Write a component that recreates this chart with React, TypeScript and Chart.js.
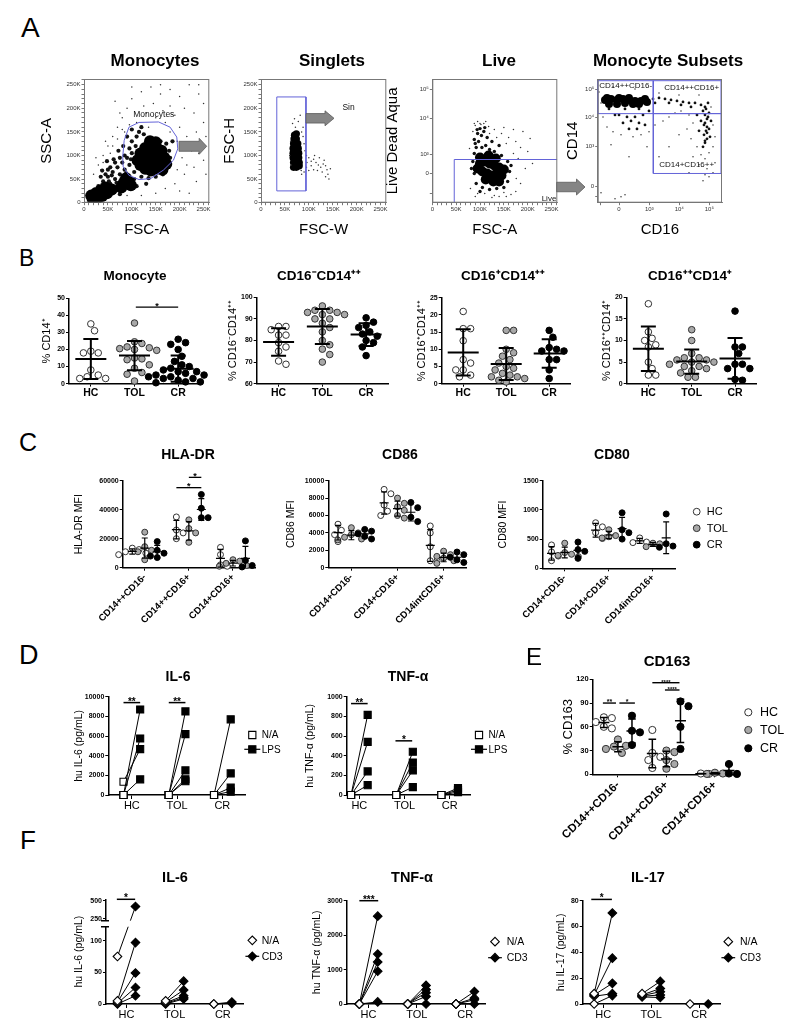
import React, { useEffect, useRef } from 'react';
import { Chart, registerables } from 'chart.js';

Chart.register(...registerables);

const FONT = "'Liberation Sans', Arial, Helvetica, sans-serif";
Chart.defaults.font.family = FONT;
Chart.defaults.color = '#000';

type P2 = [number, number];

/* ================= PANEL A : flow cytometry (K units / display units) ================= */
const A_LIN_TICKS = [0, 50, 100, 150, 200, 250];
const A_LIN_LABELS = ['0', '50K', '100K', '150K', '200K', '250K'];
const A_BIEX_LABELS = ['', '0', '10³', '10⁴', '10⁵'];
const A3_Y_TICKS = [-20, 0, 19.3, 55, 84];
const A4_X_TICKS = [-19, 0, 30.3, 60.3, 90.3];
const A4_Y_TICKS = [-10, 0, 40, 69.3, 97.3];

const A1_GATE: P2[] = [[81, 97], [84, 132], [94, 160], [115, 170], [156, 171], [180, 160], [194, 139], [196, 114], [187, 90], [166, 69], [139, 51], [115, 49], [94, 58], [82, 76], [81, 97]];
const A1_CORE: P2[] = [[118, 80], [128, 72], [140, 68], [152, 72], [125, 92], [137, 88], [149, 86], [160, 84], [132, 105], [145, 102], [157, 98], [168, 95], [140, 118], [152, 115], [162, 110], [128, 116], [118, 104], [112, 90], [172, 82], [164, 70], [138, 130], [150, 128], [82, 40], [93, 45], [88, 52], [98, 37], [78, 32], [18, 8], [28, 10], [38, 14], [48, 20], [25, 20], [35, 26], [58, 28], [45, 32], [15, 15]];
const A1_MID: P2[] = [[30, 35], [40, 45], [50, 55], [55, 40], [60, 65], [65, 50], [70, 75], [75, 60], [80, 85], [85, 70], [90, 95], [95, 80], [100, 105], [105, 65], [108, 120], [100, 130], [95, 115], [85, 100], [75, 95], [65, 85], [55, 75], [45, 60], [70, 30], [110, 140], [115, 150], [125, 145], [120, 55], [135, 52], [150, 55], [165, 60], [175, 75], [180, 95], [178, 110], [172, 125], [160, 130], [105, 50], [60, 20], [75, 18], [110, 35], [130, 40], [35, 55], [50, 70], [62, 92], [72, 110], [82, 120], [90, 140], [100, 155], [68, 42], [88, 62], [98, 92], [112, 75], [22, 28], [42, 25], [52, 45], [78, 50], [58, 58], [48, 88], [38, 68], [120, 160], [185, 130]];
const A1_SPARSE: P2[] = [[20, 60], [30, 80], [40, 100], [50, 120], [60, 140], [70, 160], [80, 180], [90, 200], [100, 220], [120, 235], [140, 245], [160, 230], [180, 240], [200, 225], [220, 250], [240, 230], [250, 210], [230, 190], [210, 200], [190, 185], [170, 170], [150, 180], [130, 190], [110, 170], [95, 165], [85, 150], [70, 135], [55, 105], [40, 85], [200, 160], [215, 140], [235, 150], [250, 170], [245, 120], [225, 110], [205, 95], [230, 75], [250, 90], [210, 60], [235, 45], [190, 40], [200, 25], [170, 30], [150, 20], [120, 15], [90, 15], [220, 20], [180, 150], [195, 130], [255, 140], [125, 205], [145, 210], [65, 215], [180, 205], [240, 250], [160, 250], [100, 245], [75, 190], [45, 130], [25, 95], [205, 115], [215, 80], [195, 70], [240, 105], [255, 60], [165, 195], [135, 160], [80, 155], [60, 120], [35, 70]];

const A2_GATE: P2[] = [[33, 25], [33, 224], [94, 224], [94, 25], [33, 25]];
const A2_CORE: P2[] = [[68, 75], [74, 75], [80, 78], [68, 85], [74, 85], [80, 85], [67, 95], [73, 95], [79, 95], [67, 105], [73, 105], [79, 105], [67, 115], [73, 115], [78, 115], [68, 125], [73, 125], [77, 125], [69, 135], [74, 135], [70, 143], [74, 146]];
const A2_SPARSE: P2[] = [[72, 160], [78, 172], [66, 168], [85, 150], [88, 140], [90, 125], [92, 110], [95, 100], [100, 95], [105, 88], [110, 92], [115, 85], [120, 80], [125, 75], [130, 82], [135, 78], [138, 70], [128, 65], [140, 60], [135, 55], [110, 70], [100, 68], [95, 75], [90, 65], [85, 60], [60, 100], [62, 130], [88, 160], [112, 100], [122, 95], [105, 78], [118, 68], [132, 90], [96, 85], [84, 68], [63, 80], [70, 178], [82, 185], [145, 72], [142, 50]];

const A3_GATE: P2[] = [[46, -29.3], [46, 14], [262, 14]];
const A3_CORE: P2[] = [[100, 10], [110, 12], [120, 10], [130, 8], [140, 6], [150, 4], [105, 2], [115, 0], [125, -2], [135, 0], [145, -2], [112, -6], [128, -8], [140, -8], [100, 16], [118, 18], [133, 15], [95, 5]];
const A3_MID: P2[] = [[88, 20], [92, 26], [97, 32], [103, 38], [108, 42], [95, 40], [88, 34], [112, 28], [120, 24], [130, 22], [145, 18], [158, 12], [162, 2], [158, -8], [150, -14], [135, -15], [120, -16], [105, -14], [92, -10], [88, 0], [85, 12], [100, 45], [94, 44], [110, 46], [125, 32], [140, 28], [90, 30], [104, 26], [115, 36], [100, -18], [165, 8], [82, 5]];
const A3_SPARSE: P2[] = [[90, 48], [95, 52], [100, 50], [108, 50], [118, 47], [130, 44], [145, 40], [160, 36], [175, 32], [185, 26], [200, 22], [205, 35], [190, 42], [170, 44], [180, 15], [195, 5], [185, -10], [175, -18], [165, -21], [150, -19], [130, -22], [110, -20], [95, -20], [90, -23], [140, -23], [210, 10], [120, 40], [135, 36], [155, 30], [150, 46], [85, 42], [102, 49], [170, 20], [176, -5], [155, -23], [125, -24], [80, -15], [78, 25], [88, 50], [112, 52]];

const A4_GATE1: P2[] = [[-21.3, 73.3], [34.3, 73.3], [34.3, 106.3], [-21.3, 106.3], [-21.3, 73.3]];
const A4_GATE2: P2[] = [[34.3, 73.3], [102, 73.3], [102, 106.3], [34.3, 106.3], [34.3, 73.3]];
const A4_GATE3: P2[] = [[34.3, 13.3], [102, 13.3], [102, 73.3], [34.3, 73.3], [34.3, 13.3]];
const A4_CORE: P2[] = [[-14, 87], [-8, 88], [-2, 87], [4, 88], [10, 87], [16, 86], [22, 86], [-10, 83], [-2, 83], [6, 84], [14, 83], [20, 83], [28, 85], [0, 89], [10, 89], [-12, 89], [26, 88]];
const A4_MID: P2[] = [[34, 88], [40, 89], [46, 88], [52, 87], [58, 86], [64, 85], [70, 84], [76, 84], [82, 82], [86, 80], [84, 76], [86, 72], [88, 68], [86, 64], [88, 60], [87, 56], [85, 52], [88, 48], [86, 44], [84, 40], [90, 74], [90, 58], [82, 66], [80, 56], [78, 72], [92, 66], [0, 72], [8, 70], [16, 70], [24, 72], [4, 64], [12, 66], [20, 64], [10, 58], [18, 58], [26, 62], [6, 78], [20, 78], [30, 76], [-10, 78], [-4, 72], [36, 84], [50, 84], [62, 82], [72, 80], [89, 84], [91, 50], [87, 78], [89, 70], [85, 62], [88, 54], [86, 46]];
const A4_SPARSE: P2[] = [[-16, 70], [-12, 60], [-6, 55], [2, 52], [14, 50], [22, 52], [30, 55], [36, 62], [44, 66], [50, 70], [56, 74], [62, 76], [70, 72], [74, 64], [68, 58], [60, 52], [72, 48], [78, 40], [82, 32], [86, 28], [90, 34], [94, 40], [96, 50], [94, 62], [92, 80], [80, 92], [60, 92], [40, 94], [96, 24], [88, 18], [80, 22], [74, 30], [-18, 84], [-20, 95], [-6, 100], [16, 98], [-18, -6], [2, -10], [6, -8], [-4, -12], [90, 10], [84, 6], [70, 14], [50, 40], [40, 30], [28, 40], [-8, 42], [10, 30], [94, 14], [86, 12]];

/* ================= PANEL B : % of monocytes ================= */
const GROUPS = ['HC', 'TOL', 'CR'];
const B1_HC = [35, 31, 19, 18, 18, 8, 5, 4, 3, 3];
const B1_TOL = [35.5, 24.5, 23.5, 21.5, 21, 20.5, 20, 19.5, 15, 14.5, 14, 11, 9, 6.5, 5.5, 1.5];
const B1_CR = [26, 24, 23, 20, 16, 13, 11, 10, 9, 8, 7, 7, 6, 5, 5, 4, 4, 3, 3, 2, 2, 1, 1, 0.5];
const B2_HC = [86.5, 86.5, 85, 82.5, 82.5, 79, 77, 75, 69, 70.5];
const B2_TOL = [96, 94, 94, 93, 93, 92, 92, 90, 90, 88, 86, 84, 80, 78, 73.5, 70, 76];
const B2_CR = [90.5, 88.5, 87, 86, 84, 83, 82, 80, 79, 77, 73];
const B3_HC = [21, 16, 16, 12.5, 7, 6, 4, 4, 2.5, 2];
const B3_TOL = [15.5, 15.5, 10, 9, 8, 7, 6, 5, 4.5, 4, 3, 2.5, 2, 2, 1.5, 1, 0.5];
const B3_CR = [15.5, 13.5, 10.5, 10, 9.5, 9.5, 7, 7, 4, 1.5];
const B4_HC = [18.5, 12, 10.5, 10, 9, 8.5, 5, 3.5, 2, 2];
const B4_TOL = [12.5, 10, 7, 6, 6, 5.5, 5.5, 5, 5, 4.5, 4, 4, 3.5, 3, 2.5, 1.5, 1.5];
const B4_CR = [16.8, 8.5, 8.5, 7, 4.5, 4.5, 3.5, 3.5, 1, 0.8];
const B1_TICKS = [0, 10, 20, 30, 40, 50];
const B2_TICKS = [60, 70, 80, 90, 100];
const B3_TICKS = [0, 5, 10, 15, 20, 25];
const B4_TICKS = [0, 5, 10, 15, 20];

/* ================= PANEL C : MFI per subset ================= */
const C_LAB1 = ['CD14++CD16-', 'CD14++CD16+', 'CD14+CD16+'];
const C_LAB2 = ['CD14+CD16-', 'CD14+CD16+', 'CD14intCD16+'];
const C1_HC = [[13500, 11000, 10000, 9000, 12500], [35000, 26000, 24000, 20000], [14000, 9000, 2000, 1000]];
const C1_TOL = [[24500, 14500, 12000, 11000, 5500], [33000, 27000, 24000, 17500], [5500, 4500, 3000, 1500, 1000]];
const C1_CR = [[18000, 12000, 10000, 8000, 7000], [50500, 41000, 34500, 34500], [18500, 5000, 1500, 500]];
const C2_HC = [[5000, 4300, 3800, 3000], [9000, 8500, 7200, 6500, 6000], [4800, 4000, 2400, 800, 800]];
const C2_TOL = [[4600, 4000, 3800, 3300, 3200, 3500], [8000, 7400, 7000, 6600, 6000, 5700], [1900, 1500, 1300, 1100, 800, 500]];
const C2_CR = [[4400, 4200, 3900, 3600, 3300], [7500, 6900, 5800, 5300], [1800, 1500, 1200, 900, 600]];
const C3_HC = [[400, 280, 210, 130], [780, 710, 610, 510], [520, 450, 440]];
const C3_TOL = [[430, 270, 240, 220, 200], [660, 560, 540, 520], [430, 420, 370]];
const C3_CR = [[450, 320, 290, 170], [950, 660, 610, 500], [930, 420, 380, 360]];
const C1_TICKS = [0, 20000, 40000, 60000];
const C2_TICKS = [0, 2000, 4000, 6000, 8000, 10000];
const C3_TICKS = [0, 500, 1000, 1500];

/* ================= PANEL D : LPS stimulation ================= */
const D1_NA = [[0, 0, 1350, 0], [0, 0, 0, 0, 0], [0, 0, 0, 0]];
const D1_LPS = [[8700, 5750, 4670, 1590], [8500, 6200, 2500, 1600, 1400], [7700, 2200, 750, 350]];
const D2_NA = [[0, 0, 0, 0], [0, 0, 0, 0], [0, 0, 0]];
const D2_LPS = [[815, 540, 240, 100], [440, 330, 250, 80], [70, 50, 30]];
const D1_TICKS = [0, 2000, 4000, 6000, 8000, 10000];
const D2_TICKS = [0, 200, 400, 600, 800, 1000];

/* ================= PANEL E : % CD163 ================= */
const E_HC = [[72, 71, 66, 60, 58], [56, 27, 22, 18, 8], [0.5, 1]];
const E_TOL = [[44, 36, 35, 32, 27], [30, 28, 18, 13, 7], [1, 0.5, 2]];
const E_CR = [[74, 55, 53, 37], [92, 86, 60, 32], [13, 1, 0.5]];
const E_TICKS = [0, 30, 60, 90, 120];

/* ================= PANEL F : CD3 stimulation ================= */
const F1_NA = [[75, 5, 3, 1, 0], [5, 3, 2, 1, 0], [0, 0]];
const F1_CD3 = [[420, 97, 49, 26, 13], [36, 22, 13, 10, 8], [3, 1]];
const F2_NA = [[0, 0, 0, 0, 0], [0, 0, 0, 0, 0], [0, 0, 0, 0]];
const F2_CD3 = [[2550, 1450, 1220, 950, 60], [540, 420, 330, 220, 0], [360, 170, 120, 0]];
const F3_NA = [[8, 7, 7, 6, 0], [8, 7, 6.5, 6, 5.5], [0]];
const F3_CD3 = [[70.5, 35.5, 16, 8, 6.5], [17.5, 12, 9.5, 7, 5], [0]];
const F1_TICKS = [0, 50, 100, 250, 500];
const F2_TICKS = [0, 1000, 2000, 3000];
const F3_TICKS = [0, 20, 40, 60, 80];

/* ================= helpers ================= */
const STY: any = {
  hc: { bg: '#ffffff', bd: '#333333' },
  tol: { bg: '#a8a8a8', bd: '#333333' },
  cr: { bg: '#000000', bd: '#000000' },
};

function mean(a: number[]) { return a.reduce((s, v) => s + v, 0) / a.length; }
function sdev(a: number[]) {
  if (a.length < 2) return 0;
  const m = mean(a);
  return Math.sqrt(a.reduce((s, v) => s + (v - m) * (v - m), 0) / (a.length - 1));
}
// axis break for F1 (lower segment 0..122, upper segment 227..520)
function brk(v: number) { return v <= 122 ? v : 134.2 + (v - 250) * 0.116; }

function linTicks(major: number[], labels: string[]) {
  const vals: number[] = []; const labs: string[] = [];
  for (let v = 0; v <= 260; v += 10) {
    vals.push(v);
    const k = major.indexOf(v);
    labs.push(k >= 0 ? labels[k] : '');
  }
  return { vals, labs };
}

function swarm(values: number[], pxY: number, d: number): number[] {
  const order = values.map((_, i) => i).sort((a, b) => values[b] - values[a]);
  const placed: number[][] = [];
  const out = new Array(values.length).fill(0);
  for (const i of order) {
    const y = values[i] * pxY;
    let chosen = 0;
    for (let k = 0; k < 80; k++) {
      const cand = k === 0 ? 0 : (k % 2 === 1 ? 1 : -1) * Math.ceil(k / 2) * d * 0.5;
      if (placed.every(([px, py]) => Math.hypot(px - cand, py - y) >= d)) { chosen = cand; break; }
    }
    placed.push([chosen, y]);
    out[i] = chosen;
  }
  return out;
}

function layoutGeo(p: any) {
  const [x0, y0, x1, y1] = p.plot;
  const ylh = p.yTitleSize * 1.2;
  const needL = p.yTitleX - ylh / 2 - 1;
  const needR = x1 + (p.extraRight ?? 4);
  const half = Math.ceil(Math.max(p.titleX - needL, needR - p.titleX));
  const left = Math.round(p.titleX - half);
  const width = 2 * half;
  const tlh = p.titleSize * 1.2;
  const top = Math.floor(p.titleY - tlh / 2 - 1);
  const bottomEdge = p.xTitleY !== undefined ? p.xTitleY + (p.xTitleSize * 1.2) / 2 + 1 : y1 + (p.bottom ?? 20);
  const height = Math.ceil(bottomEdge - top);
  const T = y0 - top;
  const titlePadTop = p.titleY - tlh / 2 - top;
  return {
    left, top, width, height,
    L: x0 - left, R: left + width - x1, T, B: top + height - y1,
    titlePadTop, titlePadBottom: T - titlePadTop - tlh,
    yTitlePad: p.yTitleX - ylh / 2 - left,
    xTitlePad: p.xTitleY !== undefined ? (top + height) - p.xTitleY - (p.xTitleSize * 1.2) / 2 : 0,
  };
}

function axisCfg(o: any) {
  return {
    type: 'linear', min: o.min, max: o.max,
    afterBuildTicks: (s: any) => { s.ticks = o.ticks.map((v: number) => ({ value: v })); },
    ticks: {
      autoSkip: false, minRotation: o.rot || 0, maxRotation: o.rot || 0, padding: o.pad ?? 1,
      color: o.color || '#000', font: { size: o.size, weight: o.bold ? 'bold' : 'normal' },
      callback: (_v: any, i: number) => o.labels[i],
    },
    grid: { display: true, drawOnChartArea: false, drawTicks: true, tickLength: o.tickLen ?? 3, color: o.tickColor || '#000', lineWidth: o.tickW ?? 1 },
    border: { display: true, color: o.border || '#000', width: o.borderW ?? 1.5 },
    title: o.title ? { display: true, text: o.title, color: '#000', font: { size: o.titleSize }, padding: o.titlePad } : { display: false },
  };
}

function chartOptions(geo: any, title: string, titleSize: number, x: any, y: any) {
  return {
    responsive: false, maintainAspectRatio: false, animation: false, events: [],
    layout: { padding: 0 },
    plugins: {
      legend: { display: false }, tooltip: { enabled: false },
      title: {
        display: true, text: title, fullSize: true, color: '#000',
        font: { size: titleSize, weight: 'bold' },
        padding: { top: geo.titlePadTop, bottom: geo.titlePadBottom },
      },
    },
    scales: {
      x: { ...x, afterFit: (s: any) => { s.height = geo.B; } },
      y: { ...y, afterFit: (s: any) => { s.width = geo.L; } },
      yR: {
        type: 'linear', position: 'right', display: true,
        ticks: { display: false }, grid: { display: false }, border: { display: false },
        afterFit: (s: any) => { s.width = geo.R; },
      },
    },
  };
}

function marker(ctx: CanvasRenderingContext2D, kind: string, x: number, y: number, r: number) {
  ctx.save();
  ctx.lineWidth = 1;
  if (kind === 'hc' || kind === 'tol' || kind === 'cr') {
    ctx.beginPath(); ctx.arc(x, y, r, 0, Math.PI * 2);
    ctx.fillStyle = STY[kind].bg; ctx.fill(); ctx.strokeStyle = STY[kind].bd; ctx.stroke();
  } else {
    const filled = kind.endsWith('Fill');
    const dia = kind.startsWith('dia');
    if (filled) {
      ctx.strokeStyle = '#000'; ctx.lineWidth = 1.2;
      ctx.beginPath(); ctx.moveTo(x - r * 1.6, y); ctx.lineTo(x + r * 1.6, y); ctx.stroke();
    }
    ctx.beginPath();
    if (dia) { ctx.moveTo(x - r, y); ctx.lineTo(x, y - r); ctx.lineTo(x + r, y); ctx.lineTo(x, y + r); ctx.closePath(); }
    else { ctx.rect(x - r * 0.72, y - r * 0.72, r * 1.44, r * 1.44); }
    ctx.fillStyle = filled ? '#000' : '#fff'; ctx.fill();
    ctx.strokeStyle = '#000'; ctx.lineWidth = 1.1; ctx.stroke();
  }
  ctx.restore();
}

function decoPlugin(d: any) {
  return {
    id: 'deco',
    afterDatasetsDraw(chart: any) {
      const ctx: CanvasRenderingContext2D = chart.ctx;
      const xs = chart.scales.x; const ys = chart.scales.y; const a = chart.chartArea;
      const px = (v: number) => xs.getPixelForValue(v);
      const py = (v: number) => ys.getPixelForValue(v);
      ctx.save();
      if (d.brk) {
        const yHi = py(d.brk.hi); const yLo = py(d.brk.lo);
        ctx.fillStyle = '#fff';
        ctx.fillRect(a.left - 6, yHi, a.right - a.left + 6, yLo - yHi);
        ctx.strokeStyle = '#000'; ctx.lineWidth = 1.5;
        ctx.beginPath();
        ctx.moveTo(a.left - 5, yHi); ctx.lineTo(a.left + 3, yHi);
        ctx.moveTo(a.left - 5, yLo); ctx.lineTo(a.left + 3, yLo);
        ctx.stroke();
      }
      if (d.frame) {
        ctx.strokeStyle = d.frame; ctx.lineWidth = 1;
        ctx.strokeRect(a.left + 0.5, a.top + 0.5, a.right - a.left - 1, a.bottom - a.top - 1);
      }
      if (d.errs) {
        for (const e of d.errs) {
          const m = mean(e.vals); const s = sdev(e.vals);
          const x = px(e.x);
          ctx.strokeStyle = '#000'; ctx.lineWidth = e.lw;
          ctx.beginPath();
          ctx.moveTo(x - e.mw, py(m)); ctx.lineTo(x + e.mw, py(m));
          if (s > 0) {
            const yTop = py(m + s);
            const lowV = Math.max(m - s, ys.min);
            const yBot = py(lowV);
            ctx.moveTo(x, yTop); ctx.lineTo(x, yBot);
            ctx.moveTo(x - e.cw, yTop); ctx.lineTo(x + e.cw, yTop);
            if (m - s > ys.min) { ctx.moveTo(x - e.cw, yBot); ctx.lineTo(x + e.cw, yBot); }
          }
          ctx.stroke();
        }
      }
      if (d.sigs) {
        for (const s of d.sigs) {
          const y = py(s.y);
          ctx.strokeStyle = '#000'; ctx.lineWidth = s.lw ?? 1.4;
          ctx.beginPath(); ctx.moveTo(px(s.x1), y); ctx.lineTo(px(s.x2), y); ctx.stroke();
          ctx.fillStyle = '#000';
          ctx.font = `bold ${s.size}px ${FONT}`;
          ctx.textAlign = 'center'; ctx.textBaseline = 'alphabetic';
          ctx.fillText(s.text, (px(s.x1) + px(s.x2)) / 2, y + s.size * 0.2);
        }
      }
      if (d.texts) {
        for (const t of d.texts) {
          ctx.fillStyle = '#111';
          ctx.font = `${t.size}px ${FONT}`;
          ctx.textAlign = t.align || 'center'; ctx.textBaseline = 'middle';
          ctx.fillText(t.text, px(t.x), py(t.y));
        }
      }
      if (d.legend) {
        const L = d.legend;
        for (const it of L.items) {
          const mx = a.right + L.dx; const my = a.top + it.dy;
          marker(ctx, it.kind, mx, my, L.r);
          ctx.fillStyle = '#000';
          ctx.font = `${L.size}px ${FONT}`;
          ctx.textAlign = 'left'; ctx.textBaseline = 'middle';
          ctx.fillText(it.text, mx + L.gap, my + 0.5);
        }
      }
      ctx.restore();
    },
  };
}

/* ================= chart spec builders ================= */
function flowSpec(p: any) {
  const geo = layoutGeo({ plot: p.plot, titleX: p.titleX, titleY: 61, titleSize: 17, yTitleX: p.yTitleX, yTitleSize: 15, xTitleY: 230, xTitleSize: 15, extraRight: 3 });
  const make = () => {
    const pts = (arr: P2[]) => arr.map(([x, y]) => ({ x, y }));
    const datasets: any[] = [];
    p.gates.forEach((g: P2[]) => datasets.push({ data: pts(g), showLine: true, borderColor: '#6363d8', borderWidth: 1, pointRadius: 0, xAxisID: 'x', yAxisID: 'y' }));
    datasets.push({ data: pts(p.sparse), pointRadius: 0.75, pointBackgroundColor: '#333', pointBorderWidth: 0, xAxisID: 'x', yAxisID: 'y' });
    datasets.push({ data: pts(p.core), pointRadius: p.coreR, pointBackgroundColor: '#000', pointBorderWidth: 0, xAxisID: 'x', yAxisID: 'y' });
    if (p.mid) datasets.push({ data: pts(p.mid), pointRadius: p.midR, pointBackgroundColor: '#111', pointBorderWidth: 0, xAxisID: 'x', yAxisID: 'y' });
    const common = { size: 6, color: '#333', tickLen: 2.5, tickColor: '#555', tickW: 0.8, border: '#777', borderW: 1, pad: 1 };
    const x = axisCfg({ ...common, min: p.xmin, max: p.xmax, ticks: p.xt.vals, labels: p.xt.labs, title: p.xTitle, titleSize: 15, titlePad: { top: 0, bottom: geo.xTitlePad } });
    const y = axisCfg({ ...common, min: p.ymin, max: p.ymax, ticks: p.yt.vals, labels: p.yt.labs, title: p.yTitle, titleSize: 15, titlePad: { top: geo.yTitlePad, bottom: 0 } });
    return { type: 'scatter', data: { datasets }, options: chartOptions(geo, p.title, 17, x, y), plugins: [decoPlugin({ frame: '#777', texts: p.texts })] };
  };
  return { geo, make };
}

function dotSpec(p: any) {
  const geo = layoutGeo({ plot: p.plot, titleX: p.titleX, titleY: p.titleY, titleSize: p.titleSize, yTitleX: p.yTitleX, yTitleSize: p.yTitleSize, bottom: p.bottom, extraRight: p.extraRight ?? 4 });
  const make = () => {
    const [x0, y0, x1, y1] = p.plot;
    const pxX = (x1 - x0) / (p.xmax - p.xmin);
    const pxY = (y1 - y0) / (p.ymax - p.ymin);
    const by: any = { hc: [], tol: [], cr: [] };
    const errs: any[] = [];
    p.clusters.forEach((c: any) => {
      const offs = swarm(c.values, pxY, p.r * 2 + 0.8);
      c.values.forEach((v: number, i: number) => by[c.style].push({ x: c.pos + offs[i] / pxX, y: v }));
      errs.push({ x: c.pos, vals: c.values, mw: p.mw, cw: p.cw, lw: p.lw });
    });
    const datasets = ['cr', 'tol', 'hc'].filter((k) => by[k].length).map((k) => ({
      data: by[k], pointRadius: p.r, pointBackgroundColor: STY[k].bg, pointBorderColor: STY[k].bd,
      pointBorderWidth: 1, xAxisID: 'x', yAxisID: 'y', clip: false,
    }));
    const x = axisCfg({ min: p.xmin, max: p.xmax, ticks: [1, 2, 3], labels: p.xlabels, size: p.xSize, bold: true, rot: p.rot || 0, tickLen: 3, pad: p.xPad ?? 0 });
    const y = axisCfg({ min: p.ymin, max: p.ymax, ticks: p.yticks, labels: p.yticks.map(String), size: p.ySize, bold: true, tickLen: 3, pad: 1, title: p.yTitle, titleSize: p.yTitleSize, titlePad: { top: geo.yTitlePad, bottom: 0 } });
    return { type: 'scatter', data: { datasets }, options: chartOptions(geo, p.title, p.titleSize, x, y), plugins: [decoPlugin({ errs, sigs: p.sigs, legend: p.legend })] };
  };
  return { geo, make };
}

function pairSpec(p: any) {
  const geo = layoutGeo({ plot: p.plot, titleX: p.titleX, titleY: p.titleY, titleSize: p.titleSize, yTitleX: p.yTitleX, yTitleSize: 10.5, bottom: 20, extraRight: p.extraRight ?? 40 });
  const make = () => {
    const tf = p.tf || ((v: number) => v);
    const datasets: any[] = [];
    p.na.forEach((grp: number[], g: number) => grp.forEach((v: number, j: number) => {
      datasets.push({
        data: [{ x: g + 1 - p.off, y: tf(v) }, { x: g + 1 + p.off, y: tf(p.st[g][j]) }],
        showLine: true, borderColor: '#000', borderWidth: 1,
        pointStyle: p.shape, pointRadius: p.r, pointBackgroundColor: ['#ffffff', '#000000'],
        pointBorderColor: '#000', pointBorderWidth: 1.1, xAxisID: 'x', yAxisID: 'y', clip: false,
      });
    }));
    const x = axisCfg({ min: p.xmin, max: p.xmax, ticks: [1, 2, 3], labels: GROUPS, size: 11, bold: false, tickLen: 4, pad: 0 });
    const y = axisCfg({ min: p.ymin, max: p.ymax, ticks: p.yticks.map(tf), labels: p.yticks.map(String), size: 7, bold: true, tickLen: 3, pad: 1, title: p.yTitle, titleSize: 10.5, titlePad: { top: geo.yTitlePad, bottom: 0 } });
    return { type: 'scatter', data: { datasets }, options: chartOptions(geo, p.title, p.titleSize, x, y), plugins: [decoPlugin({ sigs: p.sigs, legend: p.legend, brk: p.brk })] };
  };
  return { geo, make };
}

function triClusters(hc: number[][], tol: number[][], cr: number[][], off: number) {
  const out: any[] = [];
  [hc, tol, cr].forEach((arr, s) => arr.forEach((vals, g) => out.push({ style: ['hc', 'tol', 'cr'][s], pos: g + 1 + (s - 1) * off, values: vals })));
  return out;
}

/* ================= specs ================= */
const linT = linTicks(A_LIN_TICKS, A_LIN_LABELS);
const A1 = flowSpec({ plot: [84, 79, 209.3, 202.7], titleX: 155, title: 'Monocytes', yTitle: 'SSC-A', yTitleX: 47, xTitle: 'FSC-A', xmin: 0, xmax: 262, ymin: 0, ymax: 262, xt: linT, yt: linT, gates: [A1_GATE], core: A1_CORE, coreR: 6, mid: A1_MID, midR: 2.1, sparse: A1_SPARSE, texts: [{ x: 146, y: 186, text: 'Monocytes', size: 8.5 }] });
const A2 = flowSpec({ plot: [261, 79, 386.3, 202.7], titleX: 332, title: 'Singlets', yTitle: 'FSC-H', yTitleX: 230, xTitle: 'FSC-W', xmin: 0, xmax: 262, ymin: 0, ymax: 262, xt: linT, yt: linT, gates: [A2_GATE], core: A2_CORE, coreR: 3.6, sparse: A2_SPARSE, texts: [{ x: 183, y: 202, text: 'Sin', size: 8.5 }] });
const A3 = flowSpec({ plot: [432.3, 79, 557.3, 202.7], titleX: 499, title: 'Live', yTitle: 'Live Dead Aqua', yTitleX: 393, xTitle: 'FSC-A', xmin: 0, xmax: 262, ymin: -29.3, ymax: 94.7, xt: linT, yt: { vals: A3_Y_TICKS, labs: A_BIEX_LABELS }, gates: [A3_GATE], core: A3_CORE, coreR: 5, mid: A3_MID, midR: 1.7, sparse: A3_SPARSE, texts: [{ x: 260, y: -25, text: 'Live', size: 8, align: 'right' }] });
const A4 = flowSpec({ plot: [597.7, 79, 722, 202.7], titleX: 668, title: 'Monocyte Subsets', yTitle: 'CD14', yTitleX: 573, xTitle: 'CD16', xmin: -21.3, xmax: 103, ymin: -16, ymax: 108, xt: { vals: A4_X_TICKS, labs: A_BIEX_LABELS }, yt: { vals: A4_Y_TICKS, labs: A_BIEX_LABELS }, gates: [A4_GATE1, A4_GATE2, A4_GATE3], core: A4_CORE, coreR: 4, mid: A4_MID, midR: 1.4, sparse: A4_SPARSE, texts: [{ x: 6.7, y: 100.7, text: 'CD14++CD16-', size: 8 }, { x: 72.7, y: 99.3, text: 'CD14++CD16+', size: 8 }, { x: 67.7, y: 21.7, text: 'CD14+CD16++', size: 8 }] });

const bCommon = { titleY: 276, titleSize: 13.5, yTitleSize: 11, bottom: 18, xmin: 0.5, xmax: 3.5, xlabels: GROUPS, xSize: 10.5, ySize: 7, r: 3.3, mw: 15.5, cw: 7.5, lw: 2 };
const bClusters = (h: number[], t: number[], c: number[]) => [{ style: 'hc', pos: 1, values: h }, { style: 'tol', pos: 2, values: t }, { style: 'cr', pos: 3, values: c }];
const B1 = dotSpec({ ...bCommon, plot: [69, 298.3, 200, 383.6], titleX: 135, title: 'Monocyte', yTitle: '% CD14⁺', yTitleX: 47, ymin: 0, ymax: 50, yticks: B1_TICKS, clusters: bClusters(B1_HC, B1_TOL, B1_CR), sigs: [{ x1: 2.03, x2: 3, y: 44.8, text: '*', size: 9, lw: 1.3 }] });
const B2 = dotSpec({ ...bCommon, plot: [256.7, 297.3, 388, 383.7], titleX: 319, title: 'CD16⁻CD14⁺⁺', yTitle: '% CD16⁻CD14⁺⁺', yTitleX: 233, ymin: 60, ymax: 100, yticks: B2_TICKS, clusters: bClusters(B2_HC, B2_TOL, B2_CR) });
const B3 = dotSpec({ ...bCommon, plot: [441.7, 297.7, 570.7, 383.7], titleX: 503, title: 'CD16⁺CD14⁺⁺', yTitle: '% CD16⁺CD14⁺⁺', yTitleX: 421.7, ymin: 0, ymax: 25, yticks: B3_TICKS, clusters: bClusters(B3_HC, B3_TOL, B3_CR) });
const B4 = dotSpec({ ...bCommon, plot: [626.7, 297.3, 756.7, 383.7], titleX: 690, title: 'CD16⁺⁺CD14⁺', yTitle: '% CD16⁺⁺CD14⁺', yTitleX: 606.7, ymin: 0, ymax: 20, yticks: B4_TICKS, clusters: bClusters(B4_HC, B4_TOL, B4_CR) });

const cCommon = { titleY: 455, titleSize: 14, yTitleSize: 10.5, bottom: 60, xmin: 0.5, xmax: 3.5, xSize: 9.5, rot: 45, ySize: 7, r: 3, mw: 4.5, cw: 3, lw: 1.2, xPad: 1 };
const C1 = dotSpec({ ...cCommon, plot: [122.7, 480.7, 255, 567.7], titleX: 188, title: 'HLA-DR', yTitle: 'HLA-DR MFI', yTitleX: 79, ymin: 0, ymax: 60000, yticks: C1_TICKS, xlabels: C_LAB1, clusters: triClusters(C1_HC, C1_TOL, C1_CR, 0.283), sigs: [{ x1: 1.717, x2: 2.283, y: 55200, text: '*', size: 9, lw: 1.3 }, { x1: 2, x2: 2.283, y: 62300, text: '*', size: 9, lw: 1.3 }] });
const C2 = dotSpec({ ...cCommon, plot: [328.3, 480.7, 466.7, 567.7], titleX: 400, title: 'CD86', yTitle: 'CD86 MFI', yTitleX: 291, ymin: 0, ymax: 10000, yticks: C2_TICKS, xlabels: C_LAB2, clusters: triClusters(C2_HC, C2_TOL, C2_CR, 0.29) });
const C3 = dotSpec({ ...cCommon, plot: [542.7, 480.7, 675, 568.3], titleX: 611.7, title: 'CD80', yTitle: 'CD80 MFI', yTitleX: 503.3, ymin: 0, ymax: 1500, yticks: C3_TICKS, xlabels: C_LAB2, extraRight: 60, clusters: triClusters(C3_HC, C3_TOL, C3_CR, 0.3), legend: { dx: 21.7, gap: 10, size: 11, r: 3.4, items: [{ dy: 31, kind: 'hc', text: 'HC' }, { dy: 47.5, kind: 'tol', text: 'TOL' }, { dy: 64, kind: 'cr', text: 'CR' }] } });

const D1 = pairSpec({ plot: [108.3, 696.7, 245, 795], titleX: 178, titleY: 677, titleSize: 14, title: 'IL-6', yTitle: 'hu IL-6 (pg/mL)', yTitleX: 79, ymin: 0, ymax: 10000, yticks: D1_TICKS, xmin: 0.48, xmax: 3.5, off: 0.184, shape: 'rect', r: 5, na: D1_NA, st: D1_LPS, sigs: [{ x1: 0.816, x2: 1.184, y: 9400, text: '**', size: 10, lw: 1.5 }, { x1: 1.816, x2: 2.184, y: 9400, text: '**', size: 10, lw: 1.5 }], legend: { dx: 7.3, gap: 9.4, size: 10, r: 5, items: [{ dy: 38.3, kind: 'sqOpen', text: 'N/A' }, { dy: 52.6, kind: 'sqFill', text: 'LPS' }] } });
const D2 = pairSpec({ plot: [346.7, 696.7, 470, 795], titleX: 408, titleY: 677, titleSize: 14, title: 'TNF-α', yTitle: 'hu TNF-α (pg/mL)', yTitleX: 310, ymin: 0, ymax: 1000, yticks: D2_TICKS, xmin: 0.72, xmax: 3.45, off: 0.184, shape: 'rect', r: 5, extraRight: 45, na: D2_NA, st: D2_LPS, sigs: [{ x1: 0.816, x2: 1.184, y: 930, text: '**', size: 10, lw: 1.5 }, { x1: 1.8, x2: 2.17, y: 551, text: '*', size: 10, lw: 1.5 }], legend: { dx: 9, gap: 9.4, size: 10, r: 5, items: [{ dy: 38.3, kind: 'sqOpen', text: 'N/A' }, { dy: 52.6, kind: 'sqFill', text: 'LPS' }] } });

const E1 = dotSpec({ plot: [592.7, 679.3, 736.7, 774.3], titleX: 666.7, titleY: 661.7, titleSize: 15, title: 'CD163', yTitle: '% CD163', yTitleX: 568.3, yTitleSize: 13, bottom: 76, extraRight: 60, xmin: 0.48, xmax: 3.45, xlabels: C_LAB1, xSize: 11.5, rot: 45, xPad: 1, ySize: 7.5, ymin: 0, ymax: 120, yticks: E_TICKS, r: 3.6, mw: 5.5, cw: 3.8, lw: 1.5, clusters: triClusters(E_HC, E_TOL, E_CR, 0.29), sigs: [{ x1: 0.69, x2: 0.96, y: 90, text: '**', size: 7, lw: 1.4 }, { x1: 1.03, x2: 1.35, y: 90, text: '*', size: 7, lw: 1.4 }, { x1: 1.71, x2: 2.27, y: 115.7, text: '****', size: 6, lw: 1.4 }, { x1: 1.97, x2: 2.27, y: 106.5, text: '****', size: 6, lw: 1.4 }], legend: { dx: 11.6, gap: 11.7, size: 12.5, r: 3.6, items: [{ dy: 33, kind: 'hc', text: 'HC' }, { dy: 50.7, kind: 'tol', text: 'TOL' }, { dy: 69, kind: 'cr', text: 'CR' }] } });

const fLegend = (dx: number, gap: number) => ({ dx, gap, size: 10.5, r: 4.3, items: [{ dy: 41, kind: 'diaOpen', text: 'N/A' }, { dy: 57, kind: 'diaFill', text: 'CD3' }] });
const F1 = pairSpec({ plot: [106, 899.3, 243.3, 1004], titleX: 175, titleY: 878.3, titleSize: 14.5, title: 'IL-6', yTitle: 'hu IL-6 (pg/mL)', yTitleX: 79, ymin: 0, ymax: 165.3, yticks: F1_TICKS, tf: brk, brk: { lo: 122, hi: 131.6 }, xmin: 0.575, xmax: 3.425, off: 0.187, shape: 'rectRot', r: 4.3, na: F1_NA, st: F1_CD3, sigs: [{ x1: 0.8, x2: 1.18, y: 165.3, text: '*', size: 10, lw: 1.5 }], legend: fLegend(9, 9.4) });
const F2 = pairSpec({ plot: [346.7, 900.7, 485, 1004], titleX: 412, titleY: 878.3, titleSize: 14.5, title: 'TNF-α', yTitle: 'hu TNF-α (pg/mL)', yTitleX: 317, ymin: 0, ymax: 3000, yticks: F2_TICKS, xmin: 0.548, xmax: 3.41, off: 0.19, shape: 'rectRot', r: 4.3, extraRight: 45, na: F2_NA, st: F2_CD3, sigs: [{ x1: 0.81, x2: 1.2, y: 3000, text: '***', size: 10, lw: 1.5 }], legend: fLegend(10, 11.7) });
const F3 = pairSpec({ plot: [582.7, 900.7, 720.7, 1004], titleX: 648.3, titleY: 878.3, titleSize: 14.5, title: 'IL-17', yTitle: 'hu IL-17 (pg/mL)', yTitleX: 561, ymin: 0, ymax: 80, yticks: F3_TICKS, xmin: 0.571, xmax: 3.45, off: 0.19, shape: 'rectRot', r: 4.3, extraRight: 55, na: F3_NA, st: F3_CD3, sigs: [{ x1: 0.75, x2: 1.18, y: 81, text: '*', size: 10, lw: 1.5 }], legend: fLegend(7.6, 11.7) });

const SPECS = [A1, A2, A3, A4, B1, B2, B3, B4, C1, C2, C3, D1, D2, E1, F1, F2, F3];

const LETTERS = [
  { t: 'A', x: 21, y: 14, s: 28 },
  { t: 'B', x: 19, y: 247, s: 23 },
  { t: 'C', x: 19, y: 430, s: 25 },
  { t: 'D', x: 19, y: 641.5, s: 27 },
  { t: 'E', x: 526, y: 645, s: 24 },
  { t: 'F', x: 20, y: 826.5, s: 26 },
];

// gray block arrows between gating plots: [tailX, tipX, centerY, shaftH, headH, headL]
const ARROWS = [
  [179, 206.7, 146.3, 10, 16, 7.5],
  [306, 334, 118.3, 9.5, 15, 9],
  [556.7, 585, 187, 9.5, 16, 8.5],
];

function ChartCanvas({ spec }: any) {
  const ref = useRef<HTMLCanvasElement | null>(null);
  useEffect(() => {
    const chart = new Chart(ref.current as HTMLCanvasElement, spec.make());
    return () => chart.destroy();
  }, [spec]);
  const g = spec.geo;
  return (
    <canvas
      ref={ref}
      width={g.width}
      height={g.height}
      style={{ position: 'absolute', left: g.left, top: g.top, width: g.width, height: g.height }}
    />
  );
}

export default function App() {
  return (
    <div style={{ position: 'absolute', left: 0, top: 0, width: 800, height: 1036, background: '#fff', overflow: 'hidden', fontFamily: FONT }}>
      {SPECS.map((s, i) => <ChartCanvas key={i} spec={s} />)}
      {LETTERS.map((l) => (
        <div key={l.t} style={{ position: 'absolute', left: l.x, top: l.y, fontSize: l.s, lineHeight: 1, fontFamily: FONT, color: '#000' }}>{l.t}</div>
      ))}
      <svg width={800} height={1036} style={{ position: 'absolute', left: 0, top: 0, pointerEvents: 'none' }}>
        {ARROWS.map(([x0, x1, yc, sh, hh, hl], i) => {
          const pts = [
            [x0, yc - sh / 2], [x1 - hl, yc - sh / 2], [x1 - hl, yc - hh / 2], [x1, yc],
            [x1 - hl, yc + hh / 2], [x1 - hl, yc + sh / 2], [x0, yc + sh / 2],
          ].map((q) => q.join(',')).join(' ');
          return <polygon key={i} points={pts} fill="#858585" stroke="#5a5a5a" strokeWidth={0.8} />;
        })}
      </svg>
    </div>
  );
}
